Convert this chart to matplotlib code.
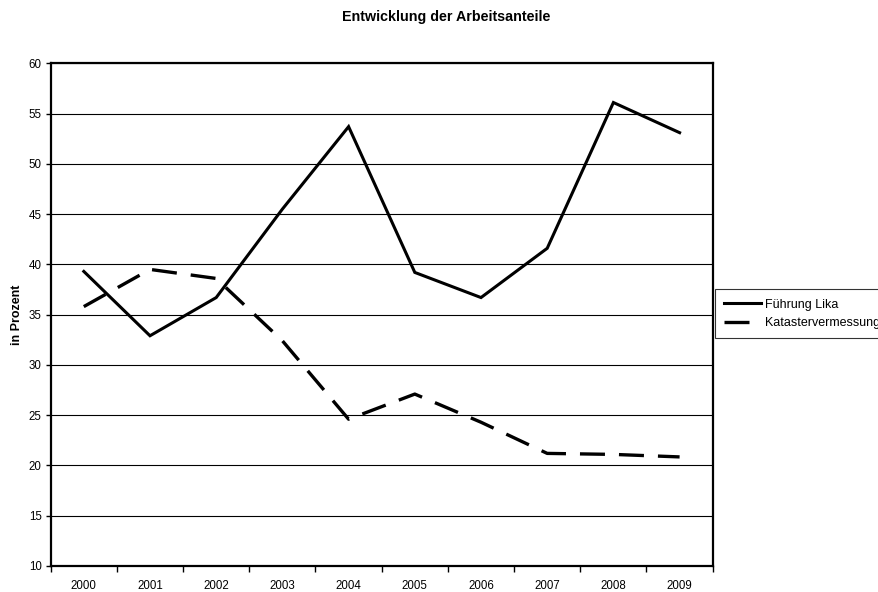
import matplotlib
matplotlib.use("Agg")
import matplotlib.pyplot as plt
import numpy as np

years = ["2000", "2001", "2002", "2003", "2004", "2005", "2006", "2007", "2008", "2009"]
fuehrung_lika = [39.3, 32.9, 36.7, 45.5, 53.7, 39.2, 36.7, 41.6, 56.1, 53.1]
katastervermessung = [35.8, 39.5, 38.6, 32.4, 24.6, 27.1, 24.3, 21.2, 21.1, 20.85]
y_ticks = [10, 15, 20, 25, 30, 35, 40, 45, 50, 55, 60]

plt.rcParams['font.family'] = ['Liberation Sans', 'DejaVu Sans']

W, H = 879, 592
fig = plt.figure(figsize=(W / 100, H / 100), dpi=100)
ax = fig.add_axes([50.7 / W, 1 - 566 / H, (712.7 - 50.7) / W, (566 - 63.3) / H])

x = np.arange(len(years))
ax.plot(x, fuehrung_lika, color='black', lw=2.2, solid_joinstyle='miter',
        label='Führung Lika', zorder=3)
ax.plot(x, katastervermessung, color='black', lw=2.4, linestyle=(0, (7.5, 4.2)),
        dash_capstyle='butt', label='Katastervermessung', zorder=3)

ax.set_xlim(-0.5, len(years) - 0.5)
ax.set_ylim(10, 60)
ax.set_yticks(y_ticks)
ax.set_yticklabels([str(v) for v in y_ticks], fontsize=8.3)
ax.yaxis.grid(True, color='black', lw=0.8)
ax.set_axisbelow(True)

ax.set_xticks(np.arange(-0.5, len(years), 1.0))
ax.set_xticklabels([])
ax.set_xticks(x, minor=True)
ax.set_xticklabels(years, minor=True, fontsize=8.3)
ax.tick_params(axis='x', which='major', direction='out', length=4, width=1)
ax.tick_params(axis='x', which='minor', length=0, pad=10)
ax.tick_params(axis='y', direction='out', length=3.5, width=1, pad=3)

for s in ax.spines.values():
    s.set_linewidth(1.6)
    s.set_color('black')

fig.text(17.5 / W, 1 - 315 / H, 'in Prozent', rotation=90, ha='center', va='center',
         fontsize=9, fontweight='bold')
fig.text(445.7 / W, 1 - 20.5 / H, 'Entwicklung der Arbeitsanteile', ha='center',
         va='baseline', fontsize=10.3, fontweight='bold')

leg = fig.legend(loc='upper left', bbox_to_anchor=(715 / W, 1 - 289.3 / H),
                 frameon=True, fancybox=False, fontsize=9, handlelength=2.9,
                 handletextpad=0.32, borderpad=0.75, labelspacing=0.5, borderaxespad=0)
leg.get_frame().set_edgecolor('black')
leg.get_frame().set_linewidth(0.8)

fig.savefig('out.png', dpi=100)
